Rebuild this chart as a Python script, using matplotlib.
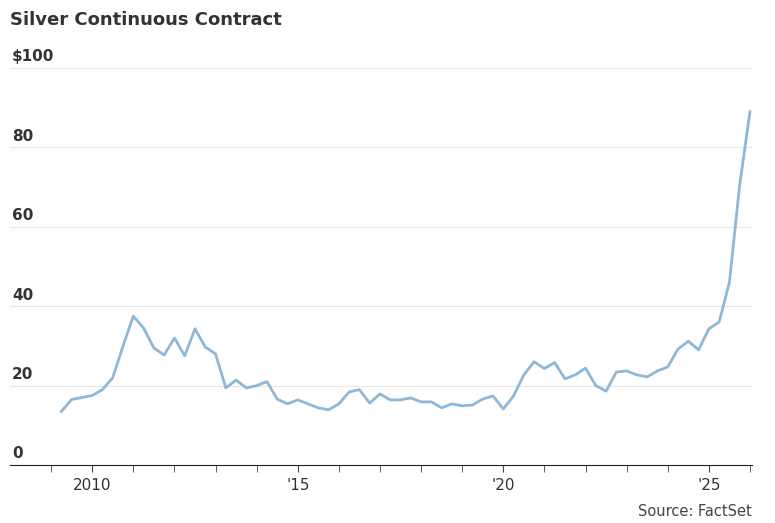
import numpy as np
import matplotlib.pyplot as plt

# quarterly silver prices, Q2 2009 .. Q1 2026 (approx from chart)
prices = [13.5, 16.5, 17, 17.5, 19, 22, 30, 37.5, 34.5, 29.5, 27.7, 32, 27.5, 34.3,
          29.7, 28, 19.4, 21.4, 19.4, 20, 21, 16.6, 15.4, 16.4, 15.4, 14.4, 13.9,
          15.4, 18.4, 19, 15.6, 17.9, 16.4, 16.4, 16.9, 15.9, 15.9, 14.4, 15.4,
          14.9, 15.1, 16.6, 17.4, 14.1, 17.4, 22.7, 26, 24.3, 25.8, 21.7, 22.7,
          24.4, 20, 18.6, 23.4, 23.7, 22.7, 22.2, 23.7, 24.7, 29.2, 31.2, 29,
          34.3, 36, 46, 70.5, 89]
start_year, end_year = 2009.25, 2026.0
years = np.linspace(start_year, end_year, len(prices))

major_ticks = [2010, 2015, 2020, 2025]
major_labels = ['2010', "'15", "'20", "'25"]
y_ticks = [0, 20, 40, 60, 80, 100]
y_labels = ['0', '20', '40', '60', '80', '$100']

fig = plt.figure(figsize=(7.75, 5.23), dpi=100)
ax = fig.add_axes([10/775, 58/523, 742/775, 397/523])
ax.plot(years, prices, color='#8fb7d6', lw=2, solid_joinstyle='round')
ax.set_xlim(2008.0, 2026.05)
ax.set_ylim(0, 100)

for v, lab in zip(y_ticks, y_labels):
    if v > 0:
        ax.axhline(v, color='#e6e6e6', lw=0.8, zorder=0)
    ax.text(2008.05, v + 0.9, lab, fontsize=11, fontweight='bold', color='#333333',
            ha='left', va='bottom')

ax.set_yticks([])
for s in ['top', 'right', 'left']:
    ax.spines[s].set_visible(False)
ax.spines['bottom'].set_color('#222222')
ax.set_xticks(major_ticks)
ax.set_xticklabels(major_labels, fontsize=11, color='#333333')
ax.set_xticks(range(2009, 2027), minor=True)
ax.tick_params(axis='x', which='both', length=5, color='#444444', pad=4)

fig.text(10/775, 1 - 20/523, 'Silver Continuous Contract', fontsize=13, fontweight='bold',
         color='#333333', ha='left', va='center')
fig.text(752/775, 1 - 512/523, 'Source: FactSet', fontsize=10.5, color='#444444',
         ha='right', va='center')

fig.savefig('out.png', dpi=100)
